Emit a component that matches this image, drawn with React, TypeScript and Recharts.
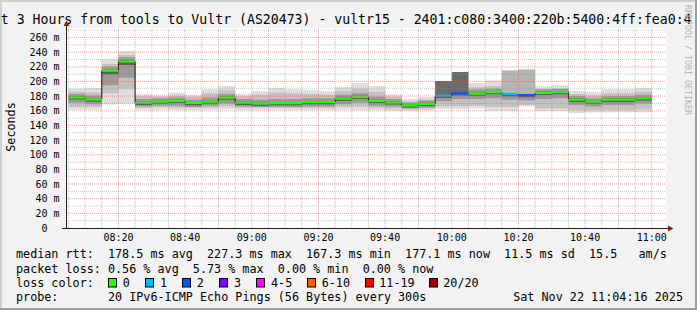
import React from 'react';
import { ComposedChart, Area, Line, XAxis, YAxis, ReferenceLine } from 'recharts';

const FONT = '"DejaVu Sans Mono", monospace';

// ---- data (each bar = one 5-minute step, labelled by its end time) ----
const barEnds = [
  '08:10', '08:15', '08:20', '08:25', '08:30', '08:35', '08:40', '08:45', '08:50', '08:55',
  '09:00', '09:05', '09:10', '09:15', '09:20', '09:25', '09:30', '09:35', '09:40', '09:45',
  '09:50', '09:55', '10:00', '10:05', '10:10', '10:15', '10:20', '10:25', '10:30', '10:35',
  '10:40', '10:45', '10:50', '10:55', '11:00',
];
const medianRtt = [
  178.4, 175.5, 214.8, 227.3, 171, 172.4, 173.4, 170.6, 172.4, 177.9,
  171, 169.7, 170.5, 170.5, 172, 172, 176.5, 178.8, 173.4, 171.5,
  167.3, 169.3, 180.6, 183.8, 183.4, 185.6, 182.9, 181.5, 184.3, 185.6,
  175.2, 172.4, 175.2, 175.2, 177.1,
];
const smokeMin = [
  161.5, 161.5, 168.5, 169.7, 161.5, 161.5, 161, 161, 161.5, 162,
  161, 161, 161.5, 161, 161, 161, 161.5, 161, 161, 160,
  160, 161, 162, 162, 163, 160, 160, 165.7, 159.7, 159.7,
  157, 157.5, 158, 158, 158,
];
const smokeMax = [
  190, 191, 230, 241.4, 183.3, 181, 184.7, 182, 189, 193.7,
  183.3, 186.5, 191, 189, 188, 186.5, 192.4, 197.8, 193.7, 182.4,
  176.5, 178.8, 200.5, 212.8, 197.8, 201.5, 215, 216.4, 193.3, 194.7,
  187, 185.6, 189, 189, 191,
];
const band1Lo = [
  165, 165, 184, 190, 164, 165, 164, 164, 164, 166,
  164, 164, 164, 164, 164, 164, 165, 165, 164, 163,
  162, 163, 166, 166, 167, 165, 165, 168, 163, 163,
  161, 161, 161, 161, 162,
];
const band1Hi = [
  186, 185, 224, 236, 180, 179, 181, 179, 184, 188,
  180, 182, 185, 184, 183, 182, 187, 190, 186, 179,
  173, 175, 186, 190, 192, 194, 190, 190, 190, 190,
  183, 181, 184, 184, 186,
];
const band2Lo = [
  171, 169, 195, 205, 166, 167, 167, 165, 167, 170,
  166, 165, 165, 165, 166, 166, 169, 171, 167, 166,
  163, 164, 173, 176, 176, 177, 175, 174, 176, 177,
  168, 166, 168, 168, 170,
];
const band2Hi = [
  183, 181, 220, 233, 176, 177, 178, 175, 178, 183,
  176, 175, 176, 176, 177, 177, 182, 184, 179, 176,
  171, 174, 185, 188, 189, 190, 187, 186, 189, 190,
  180, 177, 180, 180, 182,
];
const coreLo = [
  175.5, 172.5, 210, 222.5, 168, 169.5, 170.5, 167.5, 169.5, 175,
  168, 166.5, 167.5, 167.5, 169, 169, 173.5, 176, 170.5, 168.5,
  164.5, 166.5, 177.5, 181, 180.5, 182.5, 180, 178.5, 181.5, 182.5,
  172, 169.5, 172, 172, 174,
];
const coreHi = [
  180, 177, 216.5, 229, 172.5, 174, 175, 172, 174, 179.5,
  172.5, 171, 172, 172, 173.5, 173.5, 178, 180.5, 175, 173,
  169, 171, 182, 185.5, 185, 187, 184.5, 183, 186, 187,
  177, 174, 177, 177, 178.5,
];
const lostPings = [
  0, 0, 0, 0, 0, 0, 0, 0, 0, 0,
  0, 0, 0, 0, 0, 0, 0, 0, 0, 0,
  0, 0, 1, 2, 0, 0, 1, 2, 0, 0,
  0, 0, 0, 0, 0,
];
const darkBlockTop: (number | null)[] = [
  null, null, null, null, null, null, null, null, null, null,
  null, null, null, null, null, null, null, null, null, null,
  null, null, 200.5, 212.8, null, null, null, null, null, null,
  null, null, null, null, null,
];
const lightBlockTop: (number | null)[] = [
  null, null, null, null, null, null, null, null, null, null,
  null, null, null, null, null, null, null, null, null, null,
  null, null, null, null, null, null, 215, 216.4, null, null,
  null, null, null, null, null,
];

const xTickLabels = ['08:20', '08:40', '09:00', '09:20', '09:40', '10:00', '10:20', '10:40', '11:00'];
const yTickValues = [0, 20, 40, 60, 80, 100, 120, 140, 160, 180, 200, 220, 240, 260];
const yMinorValues = [10, 30, 50, 70, 90, 110, 130, 150, 170, 190, 210, 230, 250, 270];

const lossLegendLabels = ['0', '1', '2', '3', '4-5', '6-10', '11-19', '20/20'];
const lossLegendColors = ['#26ff00', '#00b8ff', '#0059ff', '#7e00ff', '#ff00ff', '#ff5e00', '#ff0000', '#a10000'];
const lossLegendUpper = [0, 1, 2, 3, 5, 10, 19, 20];

const titleText = 'Last 3 Hours from tools to Vultr (AS20473) - vultr15 - 2401:c080:3400:220b:5400:4ff:fea0:4';
const rttLine = 'median rtt:  178.5 ms avg  227.3 ms max  167.3 ms min  177.1 ms now  11.5 ms sd  15.5   am/s';
const lossLine = 'packet loss: 0.56 % avg  5.73 % max  0.00 % min  0.00 % now';
const probeText = '20 IPv6-ICMP Echo Pings (56 Bytes) every 300s';
const dateText = 'Sat Nov 22 11:04:16 2025';

// ---- helpers ----
const toMin = (s: string) => {
  const [h, m] = s.split(':').map(Number);
  return h * 60 + m;
};
const STEP = 5;
const T_START = toMin('08:04') + 16 / 60;
const T_END = toMin('11:04') + 16 / 60;
const lossColorIndex = (n: number) => lossLegendUpper.findIndex((u) => n <= u);

const mainData = barEnds.flatMap((e, i) => {
  const end = toMin(e);
  const row = {
    outer: [smokeMin[i], smokeMax[i]],
    b1: [band1Lo[i], band1Hi[i]],
    b2: [band2Lo[i], band2Hi[i]],
    core: [coreLo[i], coreHi[i]],
    dark: darkBlockTop[i] == null ? null : [medianRtt[i], darkBlockTop[i]],
    light: lightBlockTop[i] == null ? null : [medianRtt[i], lightBlockTop[i]],
    med: medianRtt[i],
  };
  return [{ t: end - STEP, ...row }, { t: end, ...row }];
});

const segmentData = (ci: number) =>
  barEnds.flatMap((e, i) => {
    if (lossColorIndex(lostPings[i]) !== ci) return [];
    const end = toMin(e);
    return [
      { t: end - STEP, v: medianRtt[i] },
      { t: end, v: medianRtt[i] },
      { t: end, v: null },
    ];
  });

const majorX = xTickLabels.map(toMin);
const minorX: number[] = [];
for (let t = toMin('08:05'); t <= toMin('11:00'); t += STEP) {
  if (!majorX.includes(t)) minorX.push(t);
}

const MINOR = 'rgba(143,143,143,0.55)';
const MAJOR = 'rgba(222,79,79,0.5)';

const YTick = (p: any) => {
  const v = p.payload.value;
  return (
    <text x={v === 0 ? 47.5 : 59.5} y={p.y + 3.6} textAnchor="end" fontFamily={FONT} fontSize={10} fill="#000">
      {v === 0 ? '0' : `${v} m`}
    </text>
  );
};
const XTick = (p: any) => {
  const label = xTickLabels[majorX.indexOf(p.payload.value)];
  return (
    <text x={p.x} y={241.3} textAnchor="middle" fontFamily={FONT} fontSize={10} fill="#000">
      {label}
    </text>
  );
};

const legendBoxX = [108.5, 145.5, 182.5, 219.5, 256.5, 307.5, 365.5, 429.5];
const legendLabelX = [122.7, 160, 196.7, 234, 271, 321.7, 379.3, 443.3];

export default function App() {
  const W = 697;
  const H = 310;
  return (
    <div style={{ position: 'absolute', left: 0, top: 0, width: W, height: H, background: '#f2f2f2', overflow: 'hidden' }}>
      <svg width={W} height={H} style={{ position: 'absolute', left: 0, top: 0 }}>
        <rect x={66} y={28} width={600} height={200} fill="#ffffff" />
      </svg>
      <div style={{ position: 'absolute', left: 0, top: 0 }}>
        <ComposedChart width={W} height={H} data={mainData} margin={{ top: 28, right: 31, bottom: 52, left: 6 }}>
          <XAxis
            dataKey="t"
            type="number"
            domain={[T_START, T_END]}
            allowDataOverflow
            ticks={majorX}
            tick={<XTick />}
            tickLine={false}
            axisLine={false}
            height={30}
            interval={0}
          />
          <YAxis
            type="number"
            domain={[0, 273]}
            allowDataOverflow
            ticks={yTickValues}
            tick={<YTick />}
            tickLine={false}
            axisLine={false}
            width={60}
            interval={0}
          />
          <Area dataKey="outer" type="linear" stroke="none" fill="#dedede" fillOpacity={1} isAnimationActive={false} dot={false} activeDot={false} />
          <Area dataKey="b1" type="linear" stroke="none" fill="#c2c2c2" fillOpacity={1} isAnimationActive={false} dot={false} activeDot={false} />
          <Area dataKey="b2" type="linear" stroke="none" fill="#9a9a9a" fillOpacity={1} isAnimationActive={false} dot={false} activeDot={false} />
          <Area dataKey="core" type="linear" stroke="none" fill="#5e5e5e" fillOpacity={1} isAnimationActive={false} dot={false} activeDot={false} />
          <Area dataKey="dark" type="linear" stroke="none" fill="#6a6a6a" fillOpacity={1} isAnimationActive={false} dot={false} activeDot={false} />
          <Area dataKey="light" type="linear" stroke="none" fill="#b5b5b5" fillOpacity={1} isAnimationActive={false} dot={false} activeDot={false} />
          <Line dataKey="med" type="linear" stroke="#000" strokeWidth={1} dot={false} activeDot={false} isAnimationActive={false} />
          {lossLegendColors.map((c, ci) => {
            const d = segmentData(ci);
            if (d.length === 0) return null;
            return (
              <Line
                key={c}
                data={d}
                dataKey="v"
                type="linear"
                stroke={c}
                strokeWidth={2.2}
                dot={false}
                activeDot={false}
                connectNulls={false}
                isAnimationActive={false}
              />
            );
          })}
          {yMinorValues.map((v) => (
            <ReferenceLine key={'ym' + v} y={v} stroke={MINOR} strokeDasharray="1 1" ifOverflow="hidden" />
          ))}
          {minorX.map((v) => (
            <ReferenceLine key={'xm' + v} x={v} stroke={MINOR} strokeDasharray="1 1" ifOverflow="hidden" />
          ))}
          {yTickValues.filter((v) => v > 0).map((v) => (
            <ReferenceLine key={'yM' + v} y={v} stroke={MAJOR} strokeDasharray="1 1" ifOverflow="hidden" />
          ))}
          {majorX.map((v) => (
            <ReferenceLine key={'xM' + v} x={v} stroke={MAJOR} strokeDasharray="1 1" ifOverflow="hidden" />
          ))}
        </ComposedChart>
      </div>
      <svg width={W} height={H} style={{ position: 'absolute', left: 0, top: 0, pointerEvents: 'none' }}>
        {/* frame */}
        <rect x={0} y={0} width={W} height={2} fill="#cfcfcf" />
        <rect x={0} y={0} width={2} height={H} fill="#cfcfcf" />
        <rect x={0} y={H - 2} width={W} height={2} fill="#9e9e9e" />
        <rect x={W - 2} y={0} width={2} height={H} fill="#9e9e9e" />
        {/* title */}
        <text x={-23} y={24} fontFamily={FONT} fontSize={13.2} fill="#000" style={{ whiteSpace: 'pre' }}>
          {titleText}
        </text>
        {/* watermark */}
        <text transform="translate(685,60) rotate(90)" textAnchor="middle" fontFamily={FONT} fontSize={8.3} fill="#b4b4b4">
          RRDTOOL / TOBI OETIKER
        </text>
        {/* y label */}
        <text transform="translate(15,127) rotate(-90)" textAnchor="middle" fontFamily={FONT} fontSize={11.76} fill="#000">
          Seconds
        </text>
        {/* axes */}
        <line x1={66.5} y1={229} x2={66.5} y2={25} stroke="#1f1f1f" strokeWidth={1} />
        <polygon points="63.5,26 69.5,26 66.5,20.5" fill="#801f1f" />
        <line x1={62} y1={228.5} x2={669} y2={228.5} stroke="#1f1f1f" strokeWidth={1} />
        <polygon points="668,225.5 668,231.5 673.5,228.5" fill="#801f1f" />
        {/* legend */}
        <text x={16} y={258.3} fontFamily={FONT} fontSize={11.76} fill="#000" style={{ whiteSpace: 'pre' }}>
          {rttLine}
        </text>
        <text x={16} y={272.5} fontFamily={FONT} fontSize={11.76} fill="#000" style={{ whiteSpace: 'pre' }}>
          {lossLine}
        </text>
        <text x={16} y={286.6} fontFamily={FONT} fontSize={11.76} fill="#000">
          loss color:
        </text>
        {lossLegendLabels.map((l, i) => (
          <g key={l}>
            <rect x={legendBoxX[i]} y={278.5} width={8} height={8.5} fill={lossLegendColors[i]} stroke="#000" strokeWidth={1} />
            <text x={legendLabelX[i]} y={286.6} fontFamily={FONT} fontSize={11.76} fill="#000">
              {l}
            </text>
          </g>
        ))}
        <text x={16} y={300.6} fontFamily={FONT} fontSize={11.76} fill="#000">
          probe:
        </text>
        <text x={108} y={300.6} fontFamily={FONT} fontSize={11.76} fill="#000">
          {probeText}
        </text>
        <text x={683} y={300.6} textAnchor="end" fontFamily={FONT} fontSize={11.76} fill="#000">
          {dateText}
        </text>
      </svg>
    </div>
  );
}
